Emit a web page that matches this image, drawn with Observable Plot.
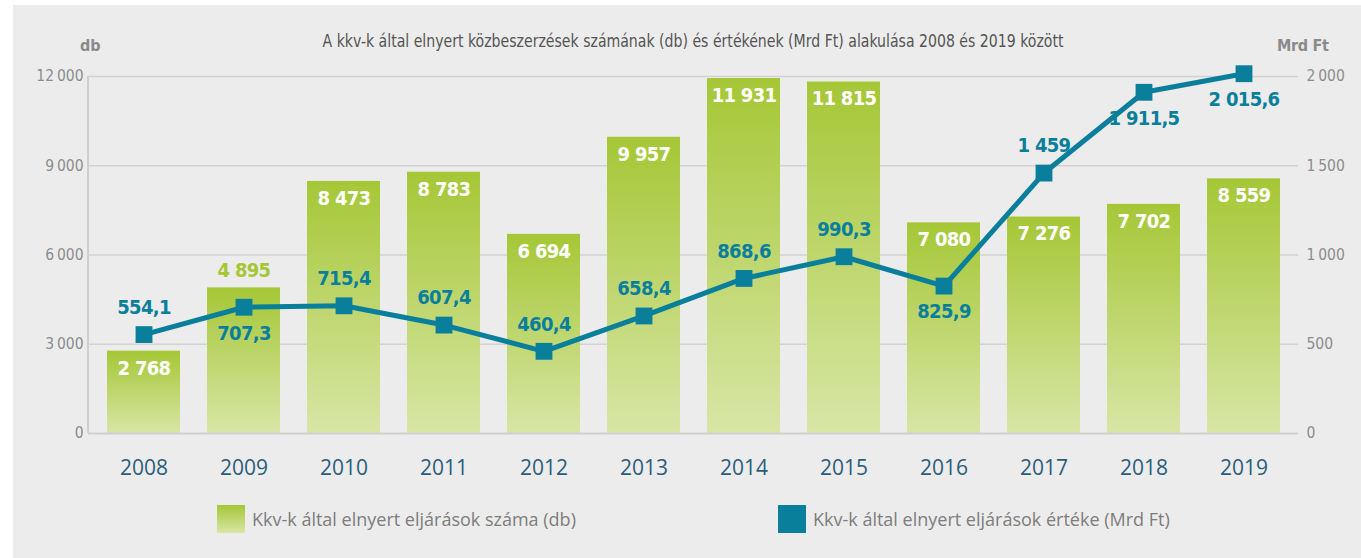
<!DOCTYPE html>
<html>
<head>
<meta charset="utf-8">
<script src="https://cdn.jsdelivr.net/npm/d3@7"></script>
<script src="https://cdn.jsdelivr.net/npm/@observablehq/plot@0.6"></script>
<style>
  html, body { margin: 0; padding: 0; background: #ffffff; }
  #wrap { position: relative; width: 1361px; height: 558px; overflow: hidden; }
  #bg { position: absolute; left: 13px; top: 5px; right: 0; bottom: 0; background: #ececec; }
  #chart { position: absolute; left: 0; top: 0; }
  .cond { font-family: "Liberation Sans Narrow", "DejaVu Sans Condensed", "Roboto", sans-serif; }
  #title { position: absolute; left: 0; width: 1386px; top: 30px; text-align: center; font-size: 18px; color: #555;
           transform: scaleX(0.87); transform-origin: 693px 0; }
  .unit { position: absolute; top: 36px; font-size: 16px; font-weight: bold; color: #8a8a8a; }
  .leg { position: absolute; top: 505px; height: 28px; display: flex; align-items: center;
         font-family: "Open Sans", "Noto Sans", sans-serif; font-size: 18px; color: #7d7d7d; }
  .sw { width: 28px; height: 28px; margin-right: 7px; }
</style>
</head>
<body>
<div id="wrap">
  <div id="bg"></div>
  <div id="chart"></div>
  <div id="title" class="cond">A kkv-k által elnyert közbeszerzések számának (db) és értékének (Mrd Ft) alakulása 2008 és 2019 között</div>
  <div class="unit cond" style="left:80px">db</div>
  <div class="unit cond" style="left:1277px; letter-spacing:-0.3px">Mrd Ft</div>
  <div class="leg" style="left:217px"><div class="sw" style="background:linear-gradient(#a5c736,#d8e6a6)"></div><span id="leg1"></span></div>
  <div class="leg" style="left:778px"><div class="sw" style="background:#0a7f9c"></div><span id="leg2"></span></div>
</div>
<script>
const years = ["2008","2009","2010","2011","2012","2013","2014","2015","2016","2017","2018","2019"];
const counts = [2768, 4895, 8473, 8783, 6694, 9957, 11931, 11815, 7080, 7276, 7702, 8559];
const values = [554.1, 707.3, 715.4, 607.4, 460.4, 658.4, 868.6, 990.3, 825.9, 1459, 1911.5, 2015.6];
const leftTicks = [0, 3000, 6000, 9000, 12000];
const rightTicks = [0, 500, 1000, 1500, 2000];
const seriesNames = ["Kkv-k által elnyert eljárások száma (db)", "Kkv-k által elnyert eljárások értéke (Mrd Ft)"];

document.getElementById("leg1").textContent = seriesNames[0];
document.getElementById("leg2").textContent = seriesNames[1];

const tickLoc = d3.formatLocale({decimal: ",", thousands: "\u2009", grouping: [3], currency: ["", ""]});
const labLoc = d3.formatLocale({decimal: ",", thousands: " ", grouping: [3], currency: ["", ""]});
const fTick = tickLoc.format(",d");
const fInt = labLoc.format(",d");
const fDec = labLoc.format(",.1f");
const fmtVal = v => Number.isInteger(v) ? fInt(v) : fDec(v);

const ratio = 12000 / 2000; // right axis mapped onto left scale
const data = years.map((y, i) => ({year: y, count: counts[i], value: values[i], vScaled: values[i] * ratio}));

const barAbove = new Set(["2009"]);
const lineBelow = new Set(["2009", "2016", "2018", "2019"]);

const COND = '"Liberation Sans Narrow", "DejaVu Sans Condensed", "Roboto", sans-serif';
const TEAL = "#0a7f9c";
const GREEN = "#a5c736";

const plot = Plot.plot({
  width: 1361,
  height: 558,
  marginLeft: 88,
  marginRight: 63,
  marginTop: 76,
  marginBottom: 125,
  style: {background: "transparent", fontFamily: COND},
  x: {domain: years, paddingInner: 0.27, paddingOuter: 0.16, label: null},
  y: {domain: [0, 12000], label: null},
  marks: [
    Plot.ruleY(leftTicks.slice(1), {stroke: "#d2d2d2", strokeWidth: 1.6}),
    Plot.barY(data, {x: "year", y: "count", fill: "url(#barGrad)"}),
    Plot.ruleY([0], {stroke: "#cfcfcf", strokeWidth: 2}),
    Plot.axisY({ticks: leftTicks, tickFormat: d => fTick(d), tickSize: 0, tickPadding: 5,
      fontSize: 15.5, fill: "#8c8c8c", label: null}),
    Plot.axisY({anchor: "right", ticks: rightTicks.map(d => d * ratio), tickFormat: d => fTick(d / ratio),
      tickSize: 0, tickPadding: 8, fontSize: 15.5, fill: "#8c8c8c", label: null}),
    Plot.axisX({tickSize: 0, tickPadding: 27, fontSize: 21, fill: "#2b5d7b",
      fontFamily: '"Open Sans", "Noto Sans", sans-serif', label: null}),
    Plot.text(data.filter(d => !barAbove.has(d.year)), {x: "year", y: "count", text: d => fInt(d.count),
      dy: 17, fill: "white", fontWeight: "bold", fontSize: 20, className: "vlab"}),
    Plot.text(data.filter(d => barAbove.has(d.year)), {x: "year", y: "count", text: d => fInt(d.count),
      dy: -17, fill: GREEN, fontWeight: "bold", fontSize: 20, className: "vlab"}),
    Plot.line(data, {x: "year", y: "vScaled", stroke: TEAL, strokeWidth: 5}),
    Plot.dot(data, {x: "year", y: "vScaled", symbol: "square", r: 9.5, fill: TEAL, stroke: "none"}),
    Plot.text(data.filter(d => !lineBelow.has(d.year)), {x: "year", y: "vScaled", text: d => fmtVal(d.value),
      dy: -27, fill: TEAL, fontWeight: "bold", fontSize: 20, className: "vlab"}),
    Plot.text(data.filter(d => lineBelow.has(d.year)), {x: "year", y: "vScaled", text: d => fmtVal(d.value),
      dy: 26, fill: TEAL, fontWeight: "bold", fontSize: 20, className: "vlab"})
  ]
});

const svg = d3.select(plot);
const defs = svg.insert("defs", ":first-child");
const g = defs.append("linearGradient").attr("id", "barGrad").attr("x1", 0).attr("y1", 0).attr("x2", 0).attr("y2", 1);
g.append("stop").attr("offset", "0%").attr("stop-color", "#a5c736");
g.append("stop").attr("offset", "100%").attr("stop-color", "#d8e6a6");
// left axis vertical line
svg.append("line").attr("x1", 88).attr("x2", 88).attr("y1", 76).attr("y2", 433)
  .attr("stroke", "#cfcfcf").attr("stroke-width", 2);
svg.selectAll(".vlab text").style("letter-spacing", "-0.7px");

document.getElementById("chart").appendChild(plot);
</script>
</body>
</html>
